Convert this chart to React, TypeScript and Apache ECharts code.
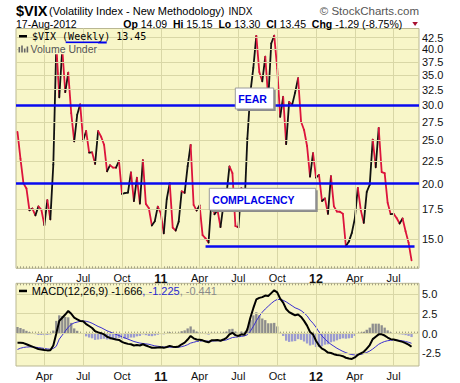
import React, { useEffect, useRef } from 'react';
import * as echarts from 'echarts';

// ---------- data ----------
const FIRST_WEEK_MONDAY = Date.UTC(2010, 1, 1); // week ending 5-Feb-2010
const WEEK_SLOTS = 135; // 133 weeks of data + 2 empty slots on the right

// $VIX weekly closes
const vixClose = [
  26.11, 22.73, 20.02, 19.5, 17.42, 17.58, 16.97, 17.77, 17.47, 16.14, 18.36, 16.62, 22.05,
  40.95, 31.24, 40.1, 32.07, 35.48, 28.79, 24.88, 28.53, 30.12, 24.98, 26.25, 23.47, 23.5,
  22.14, 26.24, 25.49, 24.45, 21.31, 21.99, 21.72, 21.71, 22.5, 18.96, 19.03, 19.08, 21.2,
  18.26, 20.61, 18.04, 22.58, 18.01, 17.61, 16.11, 16.47, 17.75,
  17.14, 15.46, 18.47, 20.04, 15.93, 15.69, 16.43, 19.22, 19.06, 21.88, 24.44, 17.91, 17.4,
  17.87, 15.32, 15.07, 14.75, 18.4, 17.07, 17.43, 15.98, 17.95, 18.86, 21.85, 21.1, 16.06,
  15.95, 19.53, 17.52, 25.25, 32.0, 36.36, 42.9, 35.59, 33.92, 38.52, 30.98, 41.25, 42.96,
  36.27, 28.24, 31.32, 24.53, 30.5, 30.04, 32.0, 34.47, 27.52, 26.38, 24.29, 20.73, 23.4,
  20.63, 20.91, 18.28, 18.53, 17.1, 20.79, 17.78, 17.31, 17.29, 17.11, 14.47, 14.82, 15.5,
  16.7, 19.55, 17.44, 16.32, 19.16, 19.89, 25.1, 21.76, 26.66, 21.23, 21.11, 18.11, 17.08,
  17.1, 16.74, 16.27, 16.7, 15.64, 14.74, 13.45,
];

// MACD(12,26,9) line
const macdLine = [
  -1.17, -1.15, -1.2, -1.35, -1.5, -1.65, -1.8, -1.95, -2.0, -2.08, -2.12, -2.1, -1.5,
  0.0, 1.6, 2.0, 2.4, 2.85, 2.5, 2.0, 1.8, 1.6, 1.55, 1.2, 0.95, 0.7, 0.3, 0.15, 0.05,
  -0.1, -0.4, -0.55, -0.65, -0.75, -0.8, -1.05, -1.2, -1.3, -1.35, -1.5, -1.45, -1.5,
  -1.35, -1.5, -1.65, -1.78, -1.8, -1.75, -1.72, -1.8, -1.7, -1.55, -1.65, -1.68, -1.62,
  -1.35, -1.15, -0.75, -0.3, -0.6, -0.75, -0.78, -0.85, -1.0, -1.1, -0.85, -0.85, -0.82,
  -0.9, -0.75, -0.55, -0.1, 0.1, -0.2, -0.3, -0.1, -0.15, 0.5, 2.0, 3.2, 4.3, 4.5, 4.6,
  4.8, 4.75, 5.1, 5.45, 5.2, 4.4, 3.9, 3.1, 2.7, 2.5, 2.3, 2.4, 2.1, 1.6, 1.0, 0.2, -0.1,
  -0.9, -1.5, -1.9, -2.1, -2.4, -2.45, -2.6, -2.7, -2.75, -2.85, -3.05, -3.15, -3.2, -3.0,
  -2.7, -2.5, -2.3, -1.9, -1.45, -0.7, -0.4, -0.1, -0.1, -0.25, -0.5, -0.7, -0.75, -0.85,
  -0.95, -1.05, -1.2, -1.4, -1.666,
];

// signal line
const signalLine = [
  -2.0, -1.85, -1.75, -1.7, -1.68, -1.68, -1.72, -1.77, -1.82, -1.88, -1.94, -1.98, -1.88,
  -1.6, -0.7, -0.2, 0.3, 0.8, 1.15, 1.35, 1.45, 1.55, 1.6, 1.55, 1.45, 1.3, 1.1, 0.9, 0.75,
  0.55, 0.35, 0.2, 0.05, -0.1, -0.25, -0.4, -0.55, -0.7, -0.85, -1.0, -1.1, -1.2, -1.25,
  -1.3, -1.35, -1.45, -1.55, -1.6, -1.65, -1.7, -1.7, -1.72, -1.72, -1.72, -1.72, -1.65,
  -1.55, -1.4, -1.2, -1.1, -1.0, -0.95, -0.92, -0.93, -0.96, -0.95, -0.93, -0.9, -0.9,
  -0.87, -0.8, -0.65, -0.5, -0.45, -0.42, -0.35, -0.3, -0.15, 0.3, 0.9, 1.6, 2.2, 2.7, 3.1,
  3.45, 3.8, 4.1, 4.3, 4.3, 4.2, 4.0, 3.75, 3.5, 3.25, 3.1, 2.9, 2.6, 2.25, 1.7, 1.3, 0.8,
  0.2, -0.3, -0.7, -1.05, -1.35, -1.6, -1.85, -2.05, -2.25, -2.4, -2.55, -2.65, -2.7,
  -2.68, -2.62, -2.52, -2.38, -2.2, -1.95, -1.65, -1.35, -1.15, -1.0, -0.9, -0.85, -0.82,
  -0.83, -0.86, -0.92, -1.0, -1.1, -1.225,
];

// MACD histogram
const macdHistogram = [
  0.83, 0.7, 0.55, 0.35, 0.18, 0.03, -0.08, -0.18, -0.18, -0.2, -0.18, -0.12, 0.38, 1.6,
  2.3, 2.2, 2.1, 2.05, 1.35, 0.65, 0.35, 0.05, -0.05, -0.35, -0.5, -0.6, -0.8, -0.75, -0.7,
  -0.65, -0.75, -0.75, -0.7, -0.65, -0.55, -0.65, -0.65, -0.6, -0.5, -0.5, -0.35, -0.3,
  -0.1, -0.2, -0.3, -0.33, -0.25, -0.15, -0.07, -0.1, 0.0, 0.17, 0.07, 0.04, 0.1, 0.3, 0.4,
  0.65, 0.9, 0.5, 0.25, 0.17, 0.07, -0.07, -0.14, 0.1, 0.08, 0.08, 0.0, 0.12, 0.25, 0.55,
  0.6, 0.25, 0.12, 0.25, 0.15, 0.65, 1.7, 2.3, 2.7, 2.3, 1.9, 1.7, 1.3, 1.3, 1.35, 0.9,
  0.1, -0.3, -0.9, -1.05, -1.0, -0.95, -0.7, -0.8, -1.0, -1.25, -1.5, -1.4, -1.7, -1.7,
  -1.6, -1.4, -1.35, -1.1, -1.0, -0.85, -0.7, -0.6, -0.65, -0.6, -0.55, -0.3, -0.02, 0.12,
  0.22, 0.48, 0.75, 1.25, 1.25, 1.25, 1.05, 0.75, 0.4, 0.15, 0.07, -0.02, -0.09, -0.13,
  -0.2, -0.3, -0.441,
];

const priceTicks = [15, 17.5, 20, 22.5, 25, 27.5, 30, 32.5, 35, 37.5, 40, 42.5];
const macdTicks = [-2.5, 0, 2.5, 5];
const fearLevel = 30;
const complacencyLevel = 20;
const floorLevel = 14.5;
const floorStartWeek = 63;
const floorEndWeek = 133;

const MONTHS = ['Jan', 'Feb', 'Mar', 'Apr', 'May', 'Jun', 'Jul', 'Aug', 'Sep', 'Oct', 'Nov', 'Dec'];

// ---------- helpers ----------
const weeks: string[] = Array.from({ length: WEEK_SLOTS }, (_, i) =>
  new Date(FIRST_WEEK_MONDAY + i * 7 * 86400000).toISOString().slice(0, 10)
);
const parseDay = (s: string) => new Date(s + 'T00:00:00Z');
const isQuarterStart = (s: string) => {
  const d = parseDay(s);
  return d.getUTCDate() <= 7 && d.getUTCMonth() % 3 === 0;
};
const quarterWeeks = weeks.filter(isQuarterStart);

const FONT = '"Liberation Sans", Arial, sans-serif';
const MONO = '"DejaVu Sans Mono", monospace';
const PLOT_BG = '#f8f6c8';
const GRID_COLOR = '#d9d7a6';
const BORDER = '#b9b792';
const BLUE = '#0a0af0';
const RED = '#dc143c';

const axisLabelFormatter = (v: string) => {
  const d = parseDay(v);
  if (d.getUTCMonth() === 0) return `{yr|${String(d.getUTCFullYear()).slice(2)}}`;
  return MONTHS[d.getUTCMonth()];
};

const makeXAxis = (gridIndex: number, showLabels: boolean, position: 'top' | 'bottom' = 'bottom') => ({
  type: 'category',
  gridIndex,
  position,
  data: weeks,
  boundaryGap: true,
  axisLine: { show: false },
  axisTick: {
    show: true,
    inside: true,
    length: 2,
    interval: 0,
    alignWithLabel: true,
    lineStyle: { color: '#a5a385', width: 1 },
  },
  axisLabel: {
    show: showLabels,
    interval: (_: number, v: string) => isQuarterStart(v),
    formatter: axisLabelFormatter,
    color: '#111',
    fontSize: 11,
    fontFamily: FONT,
    margin: 4,
    rich: { yr: { fontWeight: 'bold', fontSize: 12.5, fontFamily: FONT, color: '#111' } },
  },
  splitLine: { show: false },
});

const gridLineSeries = (xAxisIndex: number, yAxisIndex: number, ticks: number[]) => ({
  type: 'line',
  xAxisIndex,
  yAxisIndex,
  data: [],
  z: 1,
  clip: false,
  silent: true,
  markLine: {
    silent: true,
    animation: false,
    symbol: ['none', 'none'],
    lineStyle: { color: GRID_COLOR, width: 1, type: 'solid' },
    label: { show: false },
    emphasis: { disabled: true },
    data: [
      ...quarterWeeks.map((w) => ({ xAxis: w })),
      ...ticks.map((v) => ({
        yAxis: v,
        label: {
          show: true,
          position: 'end',
          distance: 3,
          formatter: v.toFixed(1),
          color: '#111',
          fontSize: 11,
          fontFamily: FONT,
        },
      })),
    ],
  },
});

export default function App() {
  const ref = useRef<HTMLDivElement>(null);

  useEffect(() => {
    if (!ref.current) return;
    const chart = echarts.init(ref.current, undefined, { renderer: 'svg' });

    const segments = vixClose.slice(1).map((v, k) => [k + 1, v, vixClose[k]]);

    const txt = (x: number, y: number, text: string, extra: any = {}) => ({
      type: 'text',
      x,
      y,
      z: 100,
      silent: true,
      style: {
        text,
        fill: '#000',
        fontSize: 11,
        fontFamily: FONT,
        verticalAlign: 'middle',
        ...extra,
      },
    });

    const box = (x: number, y: number, w: number, h: number, label: string) => [
      { type: 'rect', z: 100, silent: true, shape: { x: x + 2, y: y + 2, width: w, height: h }, style: { fill: '#8c8c8c' } },
      { type: 'rect', z: 101, silent: true, shape: { x, y, width: w, height: h }, style: { fill: '#ffffff', stroke: '#9a9a9a', lineWidth: 1 } },
      {
        type: 'text', z: 102, silent: true, x: x + 3, y: y + h / 2 + 0.5,
        style: { text: label, fill: '#0000e6', fontSize: 10.5, fontWeight: 'bold', fontFamily: FONT, verticalAlign: 'middle' },
      },
    ];

    const option: any = {
      animation: false,
      backgroundColor: '#ffffff',
      textStyle: { fontFamily: FONT },
      grid: [
        { left: 16, right: 41, top: 28.5, height: 239.8, show: true, backgroundColor: PLOT_BG, borderColor: BORDER, borderWidth: 1 },
        { left: 16, right: 41, top: 283.3, height: 83.4, show: true, backgroundColor: PLOT_BG, borderColor: BORDER, borderWidth: 1 },
      ],
      xAxis: [makeXAxis(0, true), makeXAxis(1, true), makeXAxis(1, false, 'top')],
      yAxis: [
        {
          type: 'log',
          gridIndex: 0,
          logBase: 10,
          min: 12.91,
          max: 44.57,
          position: 'right',
          axisLine: { show: false },
          axisTick: { show: false },
          axisLabel: { show: false },
          splitLine: { show: false },
        },
        {
          type: 'value',
          gridIndex: 1,
          min: -4.09,
          max: 6.34,
          position: 'right',
          axisLine: { show: false },
          axisTick: { show: false },
          axisLabel: { show: false },
          splitLine: { show: false },
        },
      ],
      series: [
        gridLineSeries(0, 0, priceTicks),
        gridLineSeries(1, 1, macdTicks),
        {
          type: 'custom',
          xAxisIndex: 0,
          yAxisIndex: 0,
          z: 3,
          clip: true,
          silent: true,
          data: segments,
          encode: { x: 0, y: 1 },
          renderItem: (_params: any, api: any) => {
            const i = api.value(0);
            const cur = api.value(1);
            const prev = api.value(2);
            const p1 = api.coord([i - 1, prev]);
            const p2 = api.coord([i, cur]);
            return {
              type: 'line',
              shape: { x1: p1[0], y1: p1[1], x2: p2[0], y2: p2[1] },
              style: { stroke: cur > prev ? '#111111' : RED, lineWidth: 1.8, lineCap: 'round' },
            };
          },
        },
        {
          type: 'line',
          xAxisIndex: 0,
          yAxisIndex: 0,
          data: [],
          z: 5,
          clip: false,
          silent: true,
          markLine: {
            silent: true,
            animation: false,
            symbol: ['none', 'none'],
            label: { show: false },
            emphasis: { disabled: true },
            lineStyle: { color: BLUE, width: 2.5, type: 'solid' },
            data: [
              { yAxis: fearLevel },
              { yAxis: complacencyLevel },
              [
                { xAxis: weeks[floorStartWeek], yAxis: floorLevel },
                { xAxis: weeks[floorEndWeek], yAxis: floorLevel },
              ],
            ],
          },
        },
        {
          type: 'bar',
          xAxisIndex: 1,
          yAxisIndex: 1,
          z: 2,
          silent: true,
          barCategoryGap: '22%',
          data: macdHistogram.map((v) => ({
            value: v,
            itemStyle: { color: v >= 0 ? '#8d8d8d' : '#9c9cd0' },
          })),
        },
        {
          type: 'line',
          xAxisIndex: 1,
          yAxisIndex: 1,
          z: 4,
          silent: true,
          symbol: 'none',
          data: signalLine,
          lineStyle: { color: '#3a2fd0', width: 1 },
        },
        {
          type: 'line',
          xAxisIndex: 1,
          yAxisIndex: 1,
          z: 5,
          silent: true,
          symbol: 'none',
          data: macdLine,
          lineStyle: { color: '#000000', width: 2 },
        },
      ],
      graphic: [
        // title row
        txt(16, 10.5, '$VIX', { fontSize: 14.5, fontWeight: 'bold' }),
        txt(49, 10.5, '(Volatility Index - New Methodology)', { fontSize: 11 }),
        txt(228.5, 11, 'INDX', { fontSize: 10 }),
        txt(419, 10.5, '\u00A9 StockCharts.com', { fontSize: 11.5, fill: '#555555', align: 'right' }),
        // second row
        txt(16, 23.5, '17-Aug-2012', { fontSize: 10.5 }),
        {
          type: 'text', x: 123.3, y: 23.5, z: 100, silent: true,
          style: {
            text: '{b|Op} {n|14.09}  {b|Hi} {n|15.15}  {b|Lo} {n|13.30}  {b|Cl} {n|13.45}  {b|Chg} {n|-1.29 (-8.75%)}',
            verticalAlign: 'middle',
            fontSize: 10.5,
            fontFamily: FONT,
            fill: '#000',
            rich: {
              b: { fontWeight: 'bold', fontSize: 10.5, fontFamily: FONT, fill: '#000' },
              n: { fontSize: 10.5, fontFamily: FONT, fill: '#000' },
            },
          },
        },
        {
          type: 'polygon', z: 100, silent: true,
          shape: { points: [[412.3, 22], [417.9, 22], [415.1, 26]] },
          style: { fill: '#a81030' },
        },
        // price legend
        { type: 'rect', z: 100, silent: true, shape: { x: 19, y: 35, width: 8, height: 2.5 }, style: { fill: '#000' } },
        txt(32, 36.5, '$VIX (Weekly) 13.45', { fontSize: 10, fontFamily: MONO }),
        { type: 'rect', z: 100, silent: true, shape: { x: 65.7, y: 41.6, width: 41, height: 2 }, style: { fill: '#0000ee' } },
        { type: 'rect', z: 100, silent: true, shape: { x: 18, y: 45, width: 11.5, height: 8 }, style: { fill: PLOT_BG } },
        { type: 'rect', z: 101, silent: true, shape: { x: 18.5, y: 47, width: 1.6, height: 5.5 }, style: { fill: '#666' } },
        { type: 'rect', z: 101, silent: true, shape: { x: 21.2, y: 45.5, width: 1.6, height: 7 }, style: { fill: '#666' } },
        { type: 'rect', z: 101, silent: true, shape: { x: 23.9, y: 48.5, width: 1.6, height: 4 }, style: { fill: '#666' } },
        { type: 'rect', z: 101, silent: true, shape: { x: 26.6, y: 46.5, width: 1.6, height: 6 }, style: { fill: '#666' } },
        txt(29.5, 48.8, 'Volume Under', { fontSize: 10.5, fill: '#555555', backgroundColor: PLOT_BG, padding: [0, 1, 0, 1] }),
        // MACD legend
        { type: 'rect', z: 100, silent: true, shape: { x: 19, y: 289.7, width: 8, height: 2.5 }, style: { fill: '#000' } },
        {
          type: 'text', x: 31.7, y: 291, z: 100, silent: true,
          style: {
            text: '{k|MACD(12,26,9) -1.666}{s|, -1.225}{h|, -0.441}',
            verticalAlign: 'middle',
            fontSize: 11,
            fontFamily: FONT,
            rich: {
              k: { fontSize: 11, fontFamily: FONT, fill: '#000' },
              s: { fontSize: 11, fontFamily: FONT, fill: '#2a2ad0' },
              h: { fontSize: 11, fontFamily: FONT, fill: '#8a8a8a' },
            },
          },
        },
        // annotation boxes
        ...box(235.3, 88, 38.4, 21, 'FEAR'),
        ...box(209.3, 188.3, 106.4, 21.7, 'COMPLACENCY'),
      ],
    };

    chart.setOption(option);
    return () => chart.dispose();
  }, []);

  return (
    <div
      ref={ref}
      style={{ position: 'fixed', left: 0, top: 0, width: 460, height: 383, background: '#fff' }}
    />
  );
}
